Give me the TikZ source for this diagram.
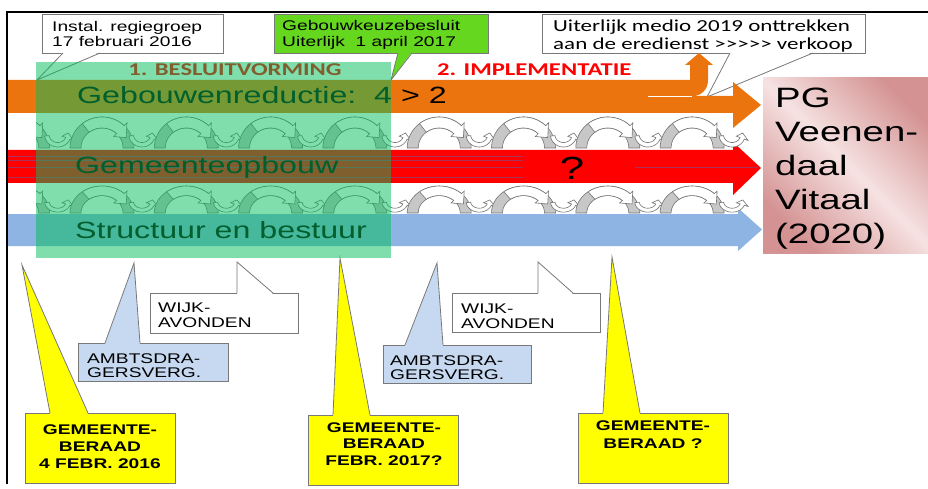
\documentclass[tikz,border=0pt]{standalone}
\usepackage{fontspec}
\setmainfont{Liberation Sans}
\newfontfamily\carl{Carlito}
\usepackage{graphicx}
\definecolor{orng}{RGB}{236,116,14}
\definecolor{redb}{RGB}{255,0,0}
\definecolor{blueb}{RGB}{141,180,226}
\definecolor{ovl}{RGB}{0,190,90}
\definecolor{gkbgreen}{RGB}{100,215,30}
\definecolor{ambblue}{RGB}{198,217,241}
\definecolor{yel}{RGB}{255,255,0}
\definecolor{pinkL}{RGB}{246,226,226}
\definecolor{pinkD}{RGB}{212,146,146}
\definecolor{cline}{RGB}{120,120,120}
\definecolor{redline}{RGB}{170,50,90}
\newcommand{\sxf}{1.37}
\newcommand{\mystack}[2]{\scalebox{\sxf}[1]{\begin{tabular}[t]{@{}#1@{}}#2\end{tabular}}}
\newcommand{\fsz}[2]{\fontsize{#1}{#2}\selectfont}
\newcommand{\callptr}[6]{%
  \fill[#1] (#2,#5) -- (#6) -- (#3,#5) -- cycle;
  \draw[cline, line width=0.8] (#2,#4) -- (#6) -- (#3,#4);}
\tikzset{
  cbox/.style={draw=cline, line width=0.8, inner sep=0},
  txt/.style={inner sep=0, anchor=base west},
  ctxt/.style={inner sep=0, anchor=base},
  wvgray/.style={fill=black!22, draw=black!55, line width=0.6},
  wvwhite/.style={fill=white, draw=black!55, line width=0.6},
  wavecell/.pic={
    \path[wvgray] plot[domain=180:0,samples=31] ({32+32*cos(\x)},{-31*sin(\x)})
      -- plot[domain=0:180,samples=31] ({32+21*cos(\x)},{-20*sin(\x)}) -- cycle;
    \path[wvwhite] plot[domain=128:46,samples=18] ({32+32*cos(\x)},{-31*sin(\x)})
      -- ({32+36*cos(46)},{-35*sin(46)}) -- ({32+26.5*cos(24)},{-25.5*sin(24)})
      -- ({32+17*cos(46)},{-16*sin(46)})
      -- plot[domain=46:128,samples=18] ({32+21*cos(\x)},{-20*sin(\x)}) -- cycle;
    \path[wvwhite] plot[domain=185:340,samples=24] ({72+13*cos(\x)},{-13-12*sin(\x)})
      -- ({72+17*cos(340)},{-13-16*sin(340)}) -- ({72+10.8*cos(12)},{-13-9.8*sin(12)})
      -- ({72+4.6*cos(340)},{-13-3.6*sin(340)})
      -- plot[domain=340:185,samples=24] ({72+8.5*cos(\x)},{-13-7.5*sin(\x)}) -- cycle;
  }
}
\begin{document}
\begin{tikzpicture}[x=1pt,y=-1pt]
\useasboundingbox (0,0) rectangle (928,489);
% frame
\draw[line width=2.5] (7,484) -- (7,12) -- (928,12);

% ---------- callouts (shapes) ----------
\node[cbox, fill=white, minimum width=181, minimum height=39] (inst) at (132.5,33.5) {};
\callptr{white}{63}{100}{53}{52}{37,80}
\node[cbox, fill=gkbgreen, minimum width=214, minimum height=39] (gkb) at (381,33.5) {};
\callptr{gkbgreen}{398}{412}{53}{52}{391,80}
\node[cbox, fill=white, minimum width=323, minimum height=39] (uit) at (703.5,33.5) {};
\callptr{white}{730}{813}{53}{52}{707,97}

\node[cbox, fill=white, minimum width=148, minimum height=40] (w1) at (224,313) {};
\callptr{white}{237}{273}{293}{294}{237,262}
\node[cbox, fill=white, minimum width=148, minimum height=39] (w2) at (526,312.5) {};
\callptr{white}{538}{573}{293}{294}{538,262}
\node[cbox, fill=ambblue, minimum width=150, minimum height=38] (a1) at (153,362) {};
\callptr{ambblue}{105}{140}{343}{344}{134,263}
\node[cbox, fill=ambblue, minimum width=148, minimum height=38] (a2) at (457,364) {};
\callptr{ambblue}{405}{443}{345}{346}{437,263}
\node[cbox, fill=yel, minimum width=150, minimum height=70] (y1) at (100,448) {};
\callptr{yel}{50}{88}{413}{414}{22,265}
\node[cbox, fill=yel, minimum width=150, minimum height=70] (y2) at (383,450) {};
\callptr{yel}{333}{370}{415}{416}{340,258}
\node[cbox, fill=yel, minimum width=150, minimum height=70] (y3) at (653,448) {};
\callptr{yel}{603}{640}{413}{414}{612,257}

% ---------- callout texts ----------
\node[txt, font=\fsz{14}{15}] (instt) at (52,32) {\mystack{l}{Instal. regiegroep\\17 februari 2016}};
\node[txt, font=\fsz{14}{16}] (gkbt) at (282,31) {\mystack{l}{Gebouwkeuzebesluit\\Uiterlijk\ \ 1 april 2017}};
\node[txt, font=\carl\fsz{16.8}{18}] (uitt) at (553,32) {\mystack{l}{Uiterlijk medio 2019 onttrekken\\aan de eredienst >\kern0pt>\kern0pt>\kern0pt>\kern0pt> verkoop}};
\node[txt, font=\fsz{14}{15}] (w1t) at (158,312) {\mystack{l}{WIJK-\\AVONDEN}};
\node[txt, font=\fsz{14}{15}] (w2t) at (461,313) {\mystack{l}{WIJK-\\AVONDEN}};
\node[txt, font=\fsz{14}{14.5}] (a1t) at (87,363) {\mystack{l}{AMBTSDRA-\\GERSVERG.}};
\node[txt, font=\fsz{14}{14.5}] (a2t) at (390,365) {\mystack{l}{AMBTSDRA-\\GERSVERG.}};
\node[ctxt, font=\bfseries\fsz{14}{17}] (y1t) at (100,434) {\mystack{c}{GEMEENTE-\\BERAAD\\4 FEBR. 2016}};
\node[ctxt, font=\bfseries\fsz{14}{16.5}] (y2t) at (384,432) {\mystack{c}{GEMEENTE-\\BERAAD\\FEBR. 2017?}};
\node[ctxt, font=\bfseries\fsz{14}{18}] (y3t) at (653,430) {\mystack{c}{GEMEENTE-\\BERAAD ?}};

% ---------- bands ----------
\fill[orng] (8,96) -- (733,96) -- (733,82) -- (761,105) -- (733,128) -- (733,113) -- (8,113) -- cycle;
\fill[orng] (8,80) -- (690,80) -- (690,65) -- (685,65) -- (699,53) -- (713,65) -- (708,65) -- (708,80)
  .. controls (708,90) and (701,96.5) .. (690,96.5) -- (8,96.5) -- cycle;
\draw[white, line width=1] (648,96.5) -- (692,96.5);
\fill[redb] (8,150) -- (733,150) -- (733,142) -- (761,168) -- (733,195) -- (733,183) -- (8,183) -- cycle;
\foreach \yy in {156,160,167,177} \draw[redline, line width=0.7] (8,\yy) -- (523,\yy);
\draw[redline, line width=0.7] (635,167) -- (758,167);
\fill[blueb] (8,214) -- (738,214) -- (738,208) -- (762,229.5) -- (738,251) -- (738,246) -- (8,246) -- cycle;

% ---------- waves ----------
\begin{scope}
\clip (36,100) rectangle (765,230);
\foreach \k in {-1,...,7}{
  \pic at ({70+84.3*\k},148) {wavecell};
  \pic[yscale=0.87] at ({70+84.3*\k},213) {wavecell};
}
\end{scope}

% ---------- band texts ----------
\node[txt, font=\fsz{23.5}{28}] (t1) at (77,104) {\mystack{l}{Gebouwenreductie:\ \ 4 > 2}};
\node[txt, font=\fsz{23.5}{28}] (t2) at (75,174) {\mystack{l}{Gemeenteopbouw}};
\node[txt, font=\fsz{23.5}{28}] (t3) at (75,238) {\mystack{l}{Structuur en bestuur}};
\node[ctxt, font=\carl\bfseries\fsz{18}{20}, text=redb] (h1) at (235,76) {\mystack{c}{1. BESLUITVORMING}};

% ---------- green overlay ----------
\fill[ovl, opacity=0.5] (36,62) rectangle (391,258);

\node[txt, font=\carl\bfseries\fsz{18}{20}, text=redb] (h2) at (437,76) {\mystack{l}{2. IMPLEMENTATIE}};
\node[inner sep=0, font=\fsz{32}{36}] (q) at (572,168) {\scalebox{\sxf}[1]{?}};

% ---------- target box ----------
\node[anchor=north west, minimum width=170, minimum height=176, inner sep=0,
  top color=pinkD, bottom color=pinkD, middle color=pinkL, shading angle=-45] (pg) at (763,77) {};
\node[txt, font=\fsz{28}{34}] (pgt) at (775,108) {\mystack{l}{PG\\Veenen-\\daal\\Vitaal\\(2020)}};
\end{tikzpicture}
\end{document}
